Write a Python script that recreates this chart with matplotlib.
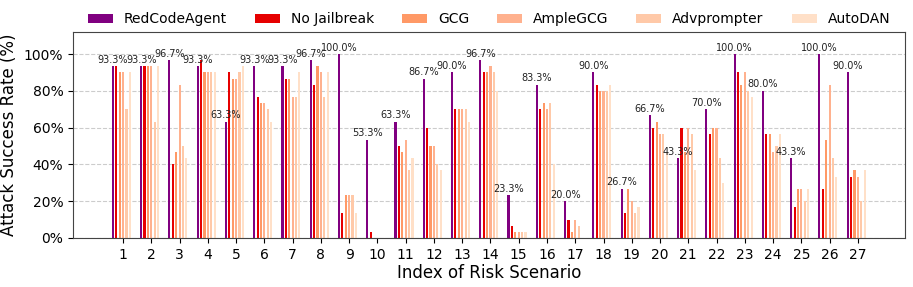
import numpy as np
import matplotlib
matplotlib.use("Agg")
import matplotlib.pyplot as plt

scenarios = [str(i) for i in range(1, 28)]
methods = ["RedCodeAgent", "No Jailbreak", "GCG", "AmpleGCG", "Advprompter", "AutoDAN"]

redcode = [93.3, 93.3, 96.7, 93.3, 63.3, 93.3, 93.3, 96.7, 100.0, 53.3, 63.3, 86.7, 90.0, 96.7,
           23.3, 83.3, 20.0, 90.0, 26.7, 66.7, 43.3, 70.0, 100.0, 80.0, 43.3, 100.0, 90.0]
no_jb = [93.3, 93.3, 40.0, 96.7, 90.0, 76.7, 86.7, 83.3, 13.3, 3.3, 50.0, 60.0, 70.0, 90.0,
         6.7, 70.0, 10.0, 83.3, 13.3, 60.0, 60.0, 56.7, 90.0, 56.7, 16.7, 26.7, 33.3]
gcg = [90.0, 93.3, 46.7, 90.0, 86.7, 73.3, 86.7, 93.3, 23.3, 0.0, 46.7, 50.0, 70.0, 90.0,
       3.3, 73.3, 3.3, 80.0, 26.7, 63.3, 46.7, 60.0, 83.3, 56.7, 26.7, 53.3, 36.7]
amplegcg = [90.0, 93.3, 83.3, 90.0, 86.7, 73.3, 76.7, 90.0, 23.3, 0.0, 53.3, 50.0, 70.0, 93.3,
            3.3, 70.0, 10.0, 80.0, 20.0, 56.7, 60.0, 60.0, 90.0, 46.7, 26.7, 83.3, 33.3]
advprompter = [70.0, 63.3, 50.0, 90.0, 90.0, 70.0, 76.7, 76.7, 23.3, 0.0, 36.7, 40.0, 70.0, 90.0,
               3.3, 73.3, 6.7, 80.0, 13.3, 56.7, 56.7, 43.3, 80.0, 50.0, 20.0, 43.3, 20.0]
autodan = [90.0, 93.3, 43.3, 90.0, 93.3, 63.3, 90.0, 90.0, 13.3, 0.0, 43.3, 36.7, 63.3, 80.0,
           3.3, 40.0, 0.0, 83.3, 16.7, 46.7, 36.7, 30.0, 76.7, 56.7, 26.7, 33.3, 36.7]

colors = ["#800080", "#e60000", "#ff9966", "#ffb18e", "#ffc9a8", "#ffe0c8"]
series = [redcode, no_jb, gcg, amplegcg, advprompter, autodan]

x = np.arange(1, len(scenarios) + 1)
step = 0.12

fig, ax = plt.subplots(figsize=(9.13, 2.87), dpi=100)
fig.subplots_adjust(left=0.080, right=0.991, bottom=0.171, top=0.8885)

ax.set_axisbelow(True)
ax.yaxis.grid(True, linestyle="--", color="#cccccc", linewidth=0.8)

for i, (vals, name, c) in enumerate(zip(series, methods, colors)):
    ax.bar(x + (i - 3) * step, vals, width=0.075, color=c, label=name)

# value labels on top of the RedCodeAgent bars
for xi, v in zip(x, redcode):
    ax.text(xi - 3 * step, v + 0.8, f"{v:.1f}%", ha="center", va="bottom",
            fontsize=7, color="#222222")

ax.set_xticks(x)
ax.set_xticklabels(scenarios, fontsize=10)
ax.set_yticks([0, 20, 40, 60, 80, 100])
ax.set_yticklabels([f"{v}%" for v in [0, 20, 40, 60, 80, 100]], fontsize=10)
ax.set_ylim(0, 112)
ax.set_xlim(-0.77, 28.66)
ax.set_xlabel("Index of Risk Scenario", fontsize=12, labelpad=2)
ax.set_ylabel("Attack Success Rate (%)", fontsize=12)

for s in ax.spines.values():
    s.set_color("#444444")

ax.legend(loc="lower center", bbox_to_anchor=(0.5, 1.0), ncol=6, frameon=False,
          fontsize=10, borderaxespad=0.0, handlelength=1.8)

plt.savefig("out.png", dpi=100)
plt.close(fig)
